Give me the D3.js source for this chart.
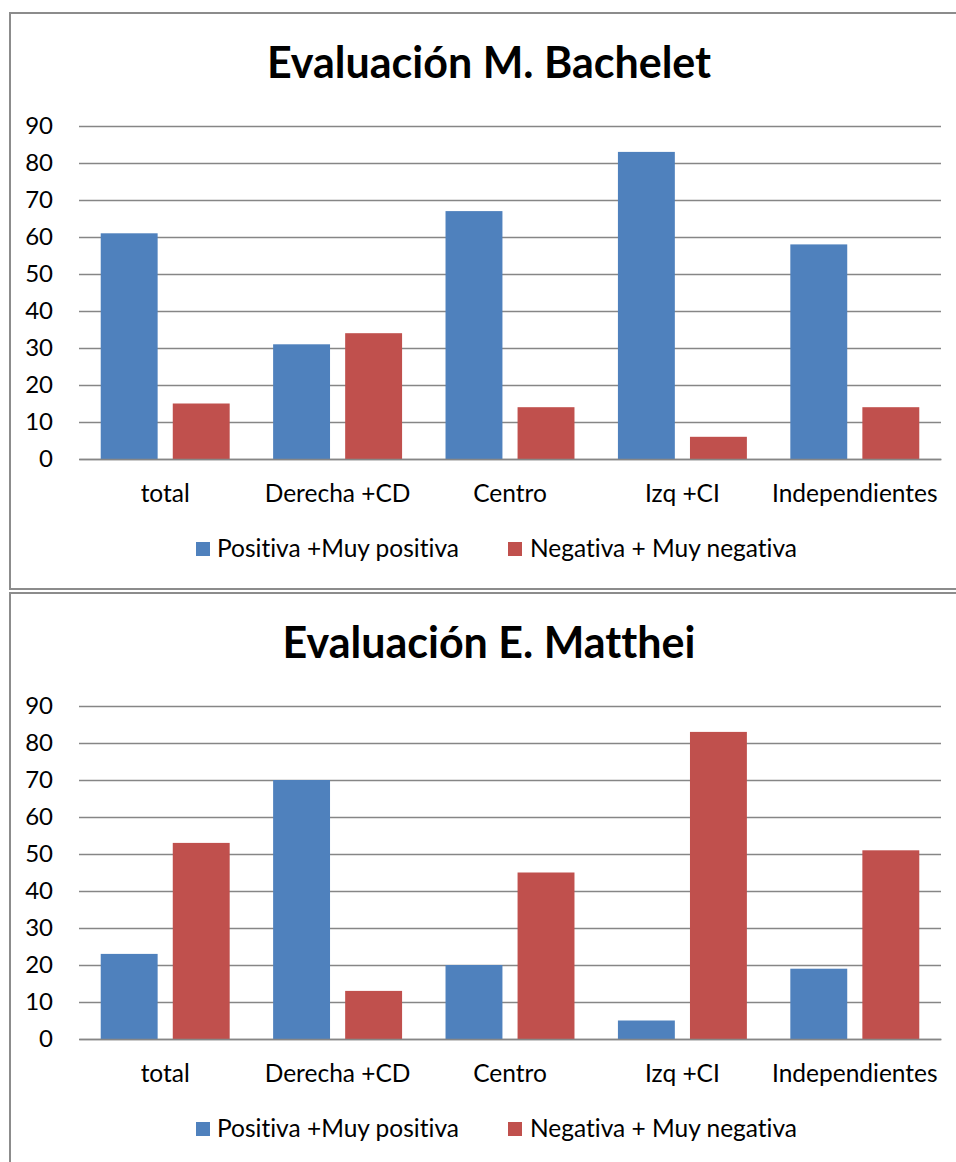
<!DOCTYPE html>
<html>
<head>
<meta charset="utf-8">
<script src="https://cdn.jsdelivr.net/npm/d3@7"></script>
<style>
  html, body { margin: 0; padding: 0; background: #fff; }
  svg { display: block; font-family: Lato, "Open Sans", sans-serif; font-variant-ligatures: none; }
</style>
</head>
<body>
<svg id="chart" width="956" height="1162"></svg>
<script>
// Survey groups (x axis)
const categories = ["total", "Derecha +CD", "Centro", "Izq +CI", "Independientes"];
// Series names shown in the legend
const seriesNames = ["Positiva +Muy positiva", "Negativa + Muy negativa"];
// Evaluación M. Bachelet
const bacheletPositive = [61, 31, 67, 83, 58];
const bacheletNegative = [15, 34, 14, 6, 14];
// Evaluación E. Matthei
const mattheiPositive = [23, 70, 20, 5, 19];
const mattheiNegative = [53, 13, 45, 83, 51];
// Value axis ticks
const yTicks = [0, 10, 20, 30, 40, 50, 60, 70, 80, 90];

const panels = [
  { title: "Evaluación M. Bachelet", series: [bacheletPositive, bacheletNegative] },
  { title: "Evaluación E. Matthei", series: [mattheiPositive, mattheiNegative] }
];

const colors = ["#4F81BD", "#C0504D"];
const svg = d3.select("#chart");

const plotLeft = 79, plotRight = 941, plotTop = 126, plotBottom = 459;
const panelStep = 580;

const x0 = d3.scaleBand().domain(categories)
  .range([plotLeft, plotRight]).paddingInner(0.252).paddingOuter(0.126);
const x1 = d3.scaleBand().domain([0, 1])
  .range([0, x0.bandwidth()]).paddingInner(0.21).paddingOuter(0);
const y = d3.scaleLinear().domain([0, 90]).range([plotBottom, plotTop]);

panels.forEach((panel, pi) => {
  const g = svg.append("g").attr("transform", `translate(0,${pi * panelStep})`);

  // chart frame
  g.append("rect")
    .attr("x", 10).attr("y", 13)
    .attr("width", 970).attr("height", 576)
    .attr("fill", "#fff")
    .attr("stroke", "#8c8c8c").attr("stroke-width", 2);

  // title
  g.append("text")
    .attr("x", 489).attr("y", 78)
    .attr("text-anchor", "middle")
    .attr("font-size", 43).attr("font-weight", "bold")
    .attr("fill", "#000")
    .text(panel.title);

  // horizontal gridlines + value labels
  const yAxis = d3.axisLeft(y).tickValues(yTicks)
    .tickSize(-(plotRight - plotLeft)).tickPadding(26);
  const ya = g.append("g").attr("transform", `translate(${plotLeft},0)`).call(yAxis);
  ya.select(".domain").remove();
  ya.selectAll(".tick line").attr("stroke", "#868686").attr("stroke-width", 1.6);
  ya.selectAll(".tick text")
    .attr("font-size", 24).attr("fill", "#000")
    .attr("font-family", "Lato, sans-serif");

  // bars
  const groups = g.selectAll(".cat").data(categories).join("g")
    .attr("class", "cat")
    .attr("transform", d => `translate(${x0(d)},0)`);
  groups.selectAll("rect")
    .data((d, ci) => panel.series.map((s, si) => ({ si, v: s[ci] })))
    .join("rect")
    .attr("x", d => x1(d.si))
    .attr("width", x1.bandwidth())
    .attr("y", d => y(d.v))
    .attr("height", d => y(0) - y(d.v))
    .attr("fill", d => colors[d.si]);

  // category axis
  const xAxis = d3.axisBottom(x0).tickSize(0).tickPadding(26);
  const xa = g.append("g").attr("transform", `translate(0,${plotBottom})`).call(xAxis);
  xa.select(".domain").attr("stroke", "#868686").attr("stroke-width", 1.6);
  xa.selectAll(".tick text")
    .attr("font-size", 24.5).attr("fill", "#000")
    .attr("font-family", "Lato, sans-serif");

  // legend
  const legendItems = [
    { name: seriesNames[0], sx: 196, tx: 217 },
    { name: seriesNames[1], sx: 508, tx: 530 }
  ];
  const lg = g.append("g");
  legendItems.forEach((it, i) => {
    lg.append("rect").attr("x", it.sx).attr("y", 542)
      .attr("width", 14).attr("height", 14).attr("fill", colors[i]);
    lg.append("text").attr("x", it.tx).attr("y", 557)
      .attr("font-size", 24.5).attr("fill", "#000")
      .text(it.name);
  });
});
</script>
</body>
</html>
